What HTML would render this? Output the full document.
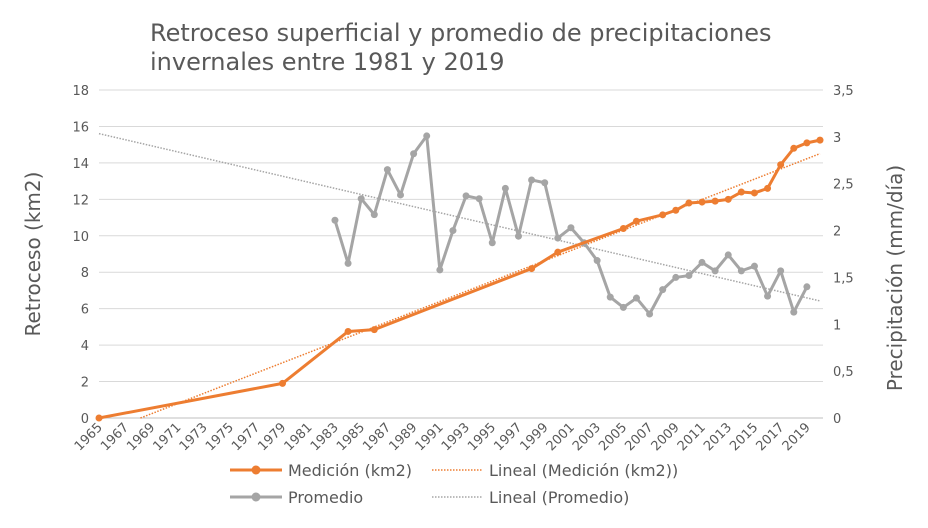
<!DOCTYPE html>
<html><head><meta charset="utf-8"><style>
body{margin:0;background:#fff;}
svg{font-family:"DejaVu Sans","Liberation Sans",sans-serif;}
</style></head><body>
<svg id="c" width="928" height="523" xmlns="http://www.w3.org/2000/svg">
<text x="150" y="41" font-size="24" fill="#595959"><tspan x="150">Retroceso superficial y promedio de precipitaciones</tspan><tspan x="150" dy="29">invernales entre 1981 y 2019</tspan></text>
<text transform="translate(40,254) rotate(-90)" text-anchor="middle" font-size="20" fill="#595959">Retroceso (km2)</text>
<text transform="translate(902,278) rotate(-90)" text-anchor="middle" font-size="20" fill="#595959">Precipitación (mm/día)</text>
<g id="grid"></g><g id="ax"></g><g id="marks"></g>
<g font-size="16" fill="#595959">
<line x1="230" y1="470" x2="282" y2="470" stroke="#ED7D31" stroke-width="3"/><circle cx="256" cy="470" r="4.5" fill="#ED7D31"/>
<text x="288" y="476">Medición (km2)</text>
<line x1="432" y1="470" x2="482" y2="470" stroke="#ED7D31" stroke-width="1.5" stroke-dasharray="1.5,1.5"/>
<text x="489" y="476">Lineal (Medición (km2))</text>
<line x1="230" y1="497" x2="282" y2="497" stroke="#A5A5A5" stroke-width="3"/><circle cx="256" cy="497" r="4.5" fill="#A5A5A5"/>
<text x="288" y="503">Promedio</text>
<line x1="432" y1="497" x2="482" y2="497" stroke="#A5A5A5" stroke-width="1.5" stroke-dasharray="1.5,1.5"/>
<text x="489" y="503">Lineal (Promedio)</text>
</g>
</svg>
<script>
const medYears=[1965,1979,1984,1986,1998,2000,2005,2006,2008,2009,2010,2011,2012,2013,2014,2015,2016,2017,2018,2019,2020];
const medValues=[0,1.9,4.75,4.85,8.2,9.1,10.4,10.8,11.15,11.4,11.8,11.85,11.9,12.0,12.4,12.35,12.6,13.9,14.8,15.1,15.25];
const promYears=[1983,1984,1985,1986,1987,1988,1989,1990,1991,1992,1993,1994,1995,1996,1997,1998,1999,2000,2001,2002,2003,2004,2005,2006,2007,2008,2009,2010,2011,2012,2013,2014,2015,2016,2017,2018,2019];
const promValues=[2.11,1.65,2.34,2.17,2.65,2.38,2.82,3.01,1.58,2.0,2.37,2.34,1.87,2.45,1.94,2.54,2.51,1.92,2.03,1.87,1.68,1.29,1.18,1.28,1.11,1.37,1.50,1.52,1.66,1.57,1.74,1.57,1.62,1.30,1.57,1.13,1.40];
const leftTicks=["0","2","4","6","8","10","12","14","16","18"];
const rightTicks=["0","0,5","1","1,5","2","2,5","3","3,5"];
const ns="http://www.w3.org/2000/svg";
const X0=99,X1=820,Y0=418,Y1=90,y0=1965,y1=2020;
const xs=y=>X0+(y-y0)*(X1-X0)/(y1-y0);
const yl=v=>Y0-v*(Y0-Y1)/18;
const yr=v=>Y0-v*(Y0-Y1)/3.5;
function mk(t,a,p){const e=document.createElementNS(ns,t);for(const k in a)e.setAttribute(k,a[k]);p.appendChild(e);return e;}
const grid=document.getElementById('grid'),ax=document.getElementById('ax'),marks=document.getElementById('marks');
leftTicks.forEach((t,i)=>{const v=+t;const y=yl(v);
 const g=mk('line',{x1:X0,x2:823,y1:y,y2:y,stroke:i==0?'#bfbfbf':'#d9d9d9','stroke-width':1},grid);
 
 
 const tx=mk('text',{x:89,y:y+5,'text-anchor':'end','font-size':13,fill:'#595959'},ax);tx.textContent=t;
 
 });
rightTicks.forEach(t=>{const v=parseFloat(t.replace(',','.'));const tx=mk('text',{x:833,y:yr(v)+5,'font-size':13,fill:'#595959'},ax);tx.textContent=t;
 
 });
for(let y=1965;y<=2019;y+=2){const x=xs(y);const tx=mk('text',{transform:`translate(${x+4},${Y0+10}) rotate(-45)`,'text-anchor':'end','font-size':13,fill:'#595959'},ax);tx.textContent=y;
 
 }
function reg(xa,va){const n=xa.length;let sx=0,sy=0,sxx=0,sxy=0;for(let i=0;i<n;i++){sx+=xa[i];sy+=va[i];sxx+=xa[i]*xa[i];sxy+=xa[i]*va[i];}const b=(n*sxy-sx*sy)/(n*sxx-sx*sx);return[b,(sy-b*sx)/n];}
// trend lines
let [b1,a1]=reg(medYears,medValues);let sY=y0;if(a1+b1*sY<0)sY=-a1/b1;
const t1=mk('line',{x1:xs(sY),y1:yl(a1+b1*sY),x2:xs(y1),y2:yl(a1+b1*y1),stroke:'#ED7D31','stroke-width':1.5,'stroke-dasharray':'1.5,1.5'},marks);


let [b2,a2]=reg(promYears,promValues);
const t2=mk('line',{x1:xs(y0),y1:yr(a2+b2*y0),x2:xs(y1),y2:yr(a2+b2*y1),stroke:'#A5A5A5','stroke-width':1.5,'stroke-dasharray':'1.5,1.5'},marks);


function series(xa,va,sc,col,name){
 const p=mk('polyline',{points:xa.map((x,i)=>xs(x)+','+sc(va[i])).join(' '),fill:'none',stroke:col,'stroke-width':3,'stroke-linejoin':'round'},marks);
 
 
 xa.forEach((x,i)=>{const c=mk('circle',{cx:xs(x),cy:sc(va[i]),r:3.5,fill:col},marks);
  
  });
}
series(promYears,promValues,yr,'#A5A5A5','promedio');
series(medYears,medValues,yl,'#ED7D31','medicion');
</script>
</body></html>
